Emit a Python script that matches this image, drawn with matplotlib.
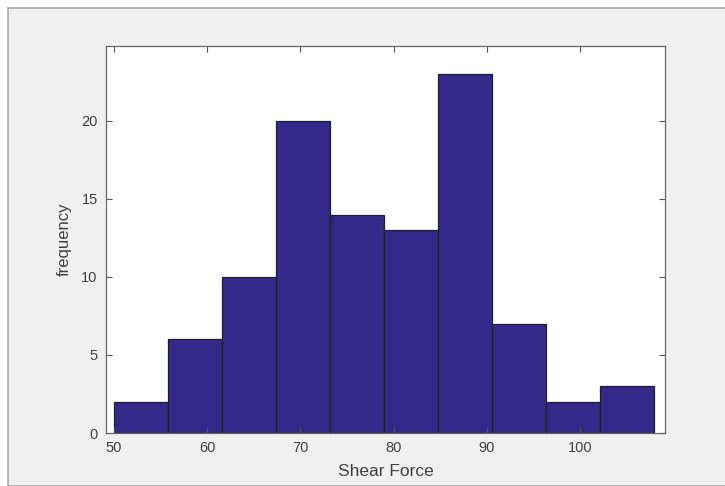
import matplotlib.pyplot as plt
import numpy as np
from matplotlib.patches import Rectangle

# histogram of shear force
bin_lo = 50.0
bin_hi = 107.9
counts = [2, 6, 10, 20, 14, 13, 23, 7, 2, 3]
xticks = [50, 60, 70, 80, 90, 100]
yticks = [0, 5, 10, 15, 20]

edges = np.linspace(bin_lo, bin_hi, len(counts) + 1)

plt.rcParams["font.family"] = ["Liberation Sans", "DejaVu Sans"]

fig = plt.figure(figsize=(7.25, 4.86), dpi=100)
fig.patch.set_facecolor("white")
# grey panel like the MATLAB figure window
fig.patches.append(Rectangle((8 / 725, 0), 1, 1 - 8 / 486, transform=fig.transFigure,
                             facecolor="#f0f0f0", edgecolor="#a8a8a8", lw=1.2, zorder=-10))

ax = fig.add_axes([106 / 725, 53 / 486, 559 / 725, 387 / 486])
ax.set_facecolor("white")
ax.bar(edges[:-1], counts, width=np.diff(edges), align="edge",
       color="#34298a", edgecolor="#1e1e2e", lw=0.9)

ax.set_xlim(49.15, 109.1)
ax.set_ylim(0, 24.8)
ax.set_xticks(xticks)
ax.set_yticks(yticks)
ax.tick_params(direction="in", top=True, right=True, length=4, width=0.8, pad=6,
               labelsize=10.5, colors="#555555", labelcolor="#404040")
for s in ax.spines.values():
    s.set_color("#666666")
    s.set_linewidth(0.9)

ax.set_xlabel("Shear Force", fontsize=12.5, color="#404040", labelpad=6)
ax.set_ylabel("frequency", fontsize=12, color="#404040", labelpad=7)

fig.savefig("out.png", dpi=100)
